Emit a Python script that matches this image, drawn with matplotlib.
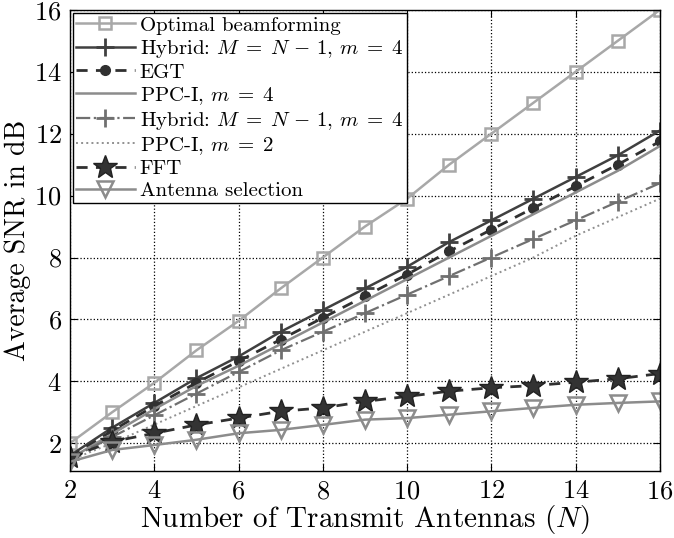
import numpy as np
import matplotlib
matplotlib.use("Agg")
import matplotlib.pyplot as plt

plt.rcParams['font.family'] = 'serif'
plt.rcParams['font.serif'] = ['cmr10']
plt.rcParams['mathtext.fontset'] = 'cm'
plt.rcParams['axes.formatter.use_mathtext'] = True

# data
N = [2, 3, 4, 5, 6, 7, 8, 9, 10, 11, 12, 13, 14, 15, 16]
optimal = [2.0, 3.0, 3.95, 5.0, 5.95, 7.0, 8.0, 9.0, 9.9, 11.0, 12.0, 13.0, 14.0, 15.0, 16.0]
hybrid_a = [1.6, 2.5, 3.3, 4.1, 4.8, 5.6, 6.3, 7.0, 7.7, 8.5, 9.2, 9.9, 10.6, 11.3, 12.1]
egt = [1.55, 2.4, 3.2, 3.95, 4.65, 5.35, 6.05, 6.75, 7.45, 8.2, 8.9, 9.6, 10.3, 11.0, 11.75]
ppc4 = [1.5, 2.3, 3.1, 3.85, 4.5, 5.2, 5.9, 6.6, 7.3, 8.0, 8.7, 9.4, 10.1, 10.8, 11.6]
hybrid_b = [1.5, 2.2, 2.9, 3.6, 4.3, 5.0, 5.6, 6.2, 6.8, 7.4, 8.0, 8.6, 9.2, 9.8, 10.4]
ppc2 = [1.45, 2.0, 2.6, 3.2, 3.8, 4.4, 5.0, 5.6, 6.2, 6.8, 7.4, 8.0, 8.7, 9.3, 9.9]
fft = [1.55, 2.05, 2.32, 2.59, 2.81, 3.03, 3.14, 3.35, 3.51, 3.68, 3.79, 3.86, 3.97, 4.08, 4.25]
antsel = [1.4, 1.78, 1.94, 2.11, 2.32, 2.43, 2.59, 2.76, 2.81, 2.92, 3.03, 3.14, 3.24, 3.3, 3.35]

hybrid_label = r'Hybrid: $M\;=\;N\,-\,1$, $m\;=\;4$'

fig = plt.figure(figsize=(6.74, 5.38), dpi=100)
ax = fig.add_axes([0.1039, 0.1245, 0.875, 0.857])

ax.plot(N, optimal, color='#a8a8a8', ls='-', lw=1.8, marker='s', ms=9, mfc='none',
        mec='#a8a8a8', mew=1.8, label='Optimal beamforming')
ax.plot(N, hybrid_a, color='#404040', ls='-', lw=1.8, marker='+', ms=13, mew=2.0,
        label=hybrid_label)
ax.plot(N, egt, color='#303030', ls=(0, (4, 3)), lw=2.0, marker='o', ms=7,
        mfc='#303030', mec='#303030', label='EGT')
ax.plot(N, ppc4, color='#8c8c8c', ls='-', lw=1.8, label=r'PPC-I, $m\;=\;4$')
ax.plot(N, hybrid_b, color='#707070', ls='-.', lw=1.6, marker='+', ms=13, mew=2.0,
        label=hybrid_label)
ax.plot(N, ppc2, color='#909090', ls=':', lw=1.4, label=r'PPC-I, $m\;=\;2$')
ax.plot(N, fft, color='#303030', ls=(0, (4, 3)), lw=2.0, marker='*', ms=18,
        mfc='#333333', mec='#222222', label='FFT')
ax.plot(N, antsel, color='#8c8c8c', ls='-', lw=1.8, marker='v', ms=12, mfc='none',
        mec='#8c8c8c', mew=1.8, label='Antenna selection')

ax.set_xlim(2, 16)
ax.set_ylim(1.1, 16)
ax.set_xticks(range(2, 17, 2))
ax.set_yticks(range(2, 17, 2))
ax.grid(True, ls=':', color='black', lw=0.9)
ax.tick_params(direction='in', top=True, right=True, labelsize=19, length=5, pad=6)
for s in ax.spines.values():
    s.set_linewidth(1.0)

ax.set_xlabel(r'Number of Transmit Antennas ($N$)', fontsize=21, labelpad=0)
ax.set_ylabel('Average SNR in dB', fontsize=20, labelpad=2)

leg = ax.legend(loc='upper left', fontsize=15, frameon=True, fancybox=False,
                edgecolor='black', framealpha=1, borderpad=0.15, labelspacing=0.15,
                handlelength=2.8, handletextpad=0.25, borderaxespad=0.15)
leg.get_frame().set_linewidth(1.0)

fig.savefig('out.png', dpi=100)
